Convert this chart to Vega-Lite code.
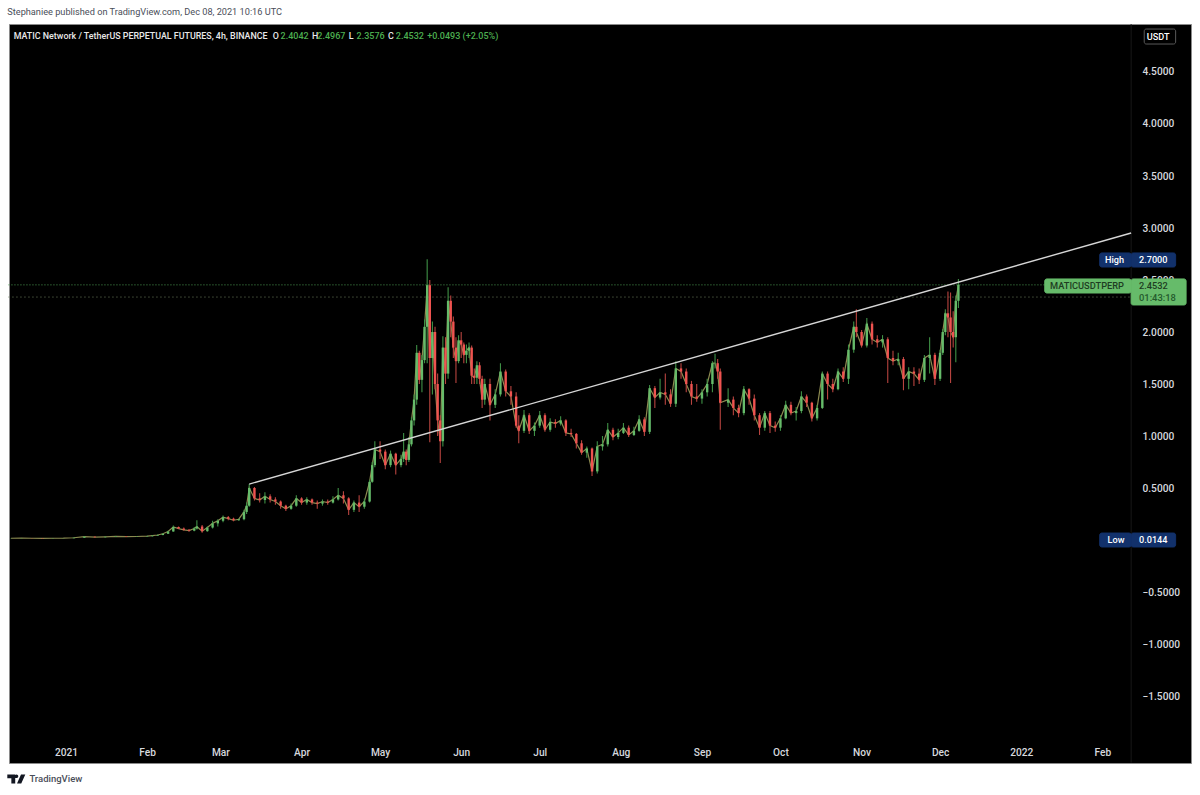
{
  "$schema": "https://vega.github.io/schema/vega-lite/v6.json",
  "width": 1182,
  "height": 739,
  "autosize": {"type": "none"},
  "padding": {"left": 9, "top": 24, "right": 9, "bottom": 32},
  "background": "#ffffff",
  "title": {"text": "Stephaniee published on TradingView.com, Dec 08, 2021 10:16 UTC", "anchor": "start", "font": "Roboto", "fontSize": 9.2, "fontWeight": "normal", "color": "#4a4e59", "offset": 6},
  "config": {
    "view": {"fill": "#000000", "stroke": "#8a8a8a", "strokeWidth": 1},
    "axis": {"domain": false, "ticks": false, "grid": false, "labelFont": "Roboto", "labelFontSize": 10.2, "labelFontWeight": 500, "labelColor": "#d6d8de", "title": null}
  },
  "datasets": {
    "candles": [
      {"d":"2020-12-11","o":0.016,"h":0.018,"l":0.015,"c":0.017},
      {"d":"2020-12-15","o":0.017,"h":0.019,"l":0.016,"c":0.018},
      {"d":"2020-12-19","o":0.018,"h":0.019,"l":0.016,"c":0.017},
      {"d":"2020-12-23","o":0.017,"h":0.018,"l":0.014,"c":0.015},
      {"d":"2020-12-27","o":0.015,"h":0.018,"l":0.015,"c":0.017},
      {"d":"2020-12-31","o":0.017,"h":0.019,"l":0.016,"c":0.018},
      {"d":"2021-01-04","o":0.018,"h":0.024,"l":0.017,"c":0.022},
      {"d":"2021-01-08","o":0.022,"h":0.036,"l":0.02,"c":0.032},
      {"d":"2021-01-12","o":0.032,"h":0.034,"l":0.024,"c":0.027},
      {"d":"2021-01-16","o":0.027,"h":0.034,"l":0.025,"c":0.031},
      {"d":"2021-01-20","o":0.031,"h":0.038,"l":0.029,"c":0.035},
      {"d":"2021-01-24","o":0.035,"h":0.038,"l":0.03,"c":0.032},
      {"d":"2021-01-28","o":0.032,"h":0.036,"l":0.028,"c":0.034},
      {"d":"2021-02-01","o":0.034,"h":0.04,"l":0.032,"c":0.037},
      {"d":"2021-02-03","o":0.037,"h":0.046,"l":0.035,"c":0.042},
      {"d":"2021-02-05","o":0.042,"h":0.052,"l":0.04,"c":0.048},
      {"d":"2021-02-07","o":0.048,"h":0.066,"l":0.046,"c":0.06},
      {"d":"2021-02-09","o":0.06,"h":0.09,"l":0.058,"c":0.082},
      {"d":"2021-02-11","o":0.082,"h":0.14,"l":0.08,"c":0.125},
      {"d":"2021-02-13","o":0.125,"h":0.13,"l":0.105,"c":0.11},
      {"d":"2021-02-15","o":0.11,"h":0.12,"l":0.09,"c":0.098},
      {"d":"2021-02-17","o":0.098,"h":0.105,"l":0.08,"c":0.09},
      {"d":"2021-02-19","o":0.09,"h":0.125,"l":0.085,"c":0.11},
      {"d":"2021-02-20","o":0.11,"h":0.19,"l":0.1,"c":0.13},
      {"d":"2021-02-22","o":0.13,"h":0.145,"l":0.07,"c":0.085},
      {"d":"2021-02-24","o":0.085,"h":0.13,"l":0.08,"c":0.12},
      {"d":"2021-02-26","o":0.12,"h":0.185,"l":0.11,"c":0.16},
      {"d":"2021-02-28","o":0.16,"h":0.2,"l":0.13,"c":0.185},
      {"d":"2021-03-02","o":0.185,"h":0.235,"l":0.17,"c":0.22},
      {"d":"2021-03-04","o":0.22,"h":0.23,"l":0.19,"c":0.205},
      {"d":"2021-03-06","o":0.205,"h":0.215,"l":0.18,"c":0.19},
      {"d":"2021-03-08","o":0.19,"h":0.205,"l":0.185,"c":0.2},
      {"d":"2021-03-10","o":0.2,"h":0.29,"l":0.19,"c":0.27},
      {"d":"2021-03-11","o":0.27,"h":0.36,"l":0.25,"c":0.33},
      {"d":"2021-03-12","o":0.33,"h":0.538,"l":0.32,"c":0.5},
      {"d":"2021-03-14","o":0.5,"h":0.51,"l":0.38,"c":0.4},
      {"d":"2021-03-16","o":0.4,"h":0.45,"l":0.36,"c":0.385},
      {"d":"2021-03-18","o":0.385,"h":0.46,"l":0.35,"c":0.42},
      {"d":"2021-03-20","o":0.42,"h":0.44,"l":0.36,"c":0.39},
      {"d":"2021-03-22","o":0.39,"h":0.41,"l":0.34,"c":0.37},
      {"d":"2021-03-24","o":0.37,"h":0.38,"l":0.3,"c":0.33},
      {"d":"2021-03-26","o":0.33,"h":0.34,"l":0.28,"c":0.3},
      {"d":"2021-03-28","o":0.3,"h":0.35,"l":0.29,"c":0.33},
      {"d":"2021-03-30","o":0.33,"h":0.43,"l":0.32,"c":0.4},
      {"d":"2021-04-01","o":0.4,"h":0.41,"l":0.34,"c":0.36},
      {"d":"2021-04-03","o":0.36,"h":0.41,"l":0.34,"c":0.39},
      {"d":"2021-04-05","o":0.39,"h":0.4,"l":0.34,"c":0.36},
      {"d":"2021-04-07","o":0.36,"h":0.38,"l":0.3,"c":0.35},
      {"d":"2021-04-09","o":0.35,"h":0.39,"l":0.33,"c":0.37},
      {"d":"2021-04-11","o":0.37,"h":0.39,"l":0.34,"c":0.36},
      {"d":"2021-04-13","o":0.36,"h":0.42,"l":0.35,"c":0.39},
      {"d":"2021-04-15","o":0.39,"h":0.5,"l":0.38,"c":0.43},
      {"d":"2021-04-17","o":0.43,"h":0.47,"l":0.35,"c":0.4},
      {"d":"2021-04-19","o":0.4,"h":0.41,"l":0.24,"c":0.29},
      {"d":"2021-04-21","o":0.29,"h":0.38,"l":0.27,"c":0.36},
      {"d":"2021-04-23","o":0.36,"h":0.43,"l":0.27,"c":0.32},
      {"d":"2021-04-25","o":0.32,"h":0.4,"l":0.3,"c":0.37},
      {"d":"2021-04-27","o":0.37,"h":0.58,"l":0.36,"c":0.56},
      {"d":"2021-04-28","o":0.56,"h":0.75,"l":0.55,"c":0.72},
      {"d":"2021-04-29","o":0.72,"h":0.95,"l":0.7,"c":0.87},
      {"d":"2021-05-01","o":0.87,"h":0.95,"l":0.78,"c":0.85},
      {"d":"2021-05-03","o":0.85,"h":0.87,"l":0.68,"c":0.72},
      {"d":"2021-05-05","o":0.72,"h":0.86,"l":0.7,"c":0.83},
      {"d":"2021-05-07","o":0.83,"h":0.84,"l":0.63,"c":0.72},
      {"d":"2021-05-09","o":0.72,"h":0.82,"l":0.7,"c":0.78},
      {"d":"2021-05-10","o":0.78,"h":1.03,"l":0.75,"c":0.85},
      {"d":"2021-05-11","o":0.85,"h":0.87,"l":0.72,"c":0.77},
      {"d":"2021-05-12","o":0.77,"h":0.99,"l":0.75,"c":0.92},
      {"d":"2021-05-13","o":0.92,"h":1.18,"l":0.9,"c":1.15},
      {"d":"2021-05-14","o":1.15,"h":1.4,"l":1.1,"c":1.35},
      {"d":"2021-05-15","o":1.35,"h":1.875,"l":1.3,"c":1.8},
      {"d":"2021-05-16","o":1.8,"h":1.82,"l":1.5,"c":1.54},
      {"d":"2021-05-17","o":1.54,"h":1.78,"l":1.42,"c":1.73},
      {"d":"2021-05-18","o":1.73,"h":2.12,"l":1.7,"c":2.05},
      {"d":"2021-05-19","o":2.05,"h":2.7,"l":1.7,"c":2.45},
      {"d":"2021-05-20","o":2.45,"h":2.5,"l":0.94,"c":1.75},
      {"d":"2021-05-21","o":1.75,"h":2.1,"l":1.4,"c":2.0},
      {"d":"2021-05-22","o":2.0,"h":2.05,"l":1.45,"c":1.5},
      {"d":"2021-05-23","o":1.5,"h":1.6,"l":1.0,"c":1.15},
      {"d":"2021-05-24","o":1.15,"h":1.2,"l":0.74,"c":0.95},
      {"d":"2021-05-25","o":0.95,"h":1.96,"l":0.9,"c":1.85},
      {"d":"2021-05-26","o":1.85,"h":1.95,"l":1.5,"c":1.6},
      {"d":"2021-05-27","o":1.6,"h":2.43,"l":1.55,"c":2.3},
      {"d":"2021-05-28","o":2.3,"h":2.35,"l":1.95,"c":2.1},
      {"d":"2021-05-29","o":2.1,"h":2.15,"l":1.75,"c":1.85},
      {"d":"2021-05-30","o":1.85,"h":1.95,"l":1.51,"c":1.72},
      {"d":"2021-05-31","o":1.72,"h":1.97,"l":1.7,"c":1.92},
      {"d":"2021-06-01","o":1.92,"h":2.0,"l":1.75,"c":1.88},
      {"d":"2021-06-02","o":1.88,"h":1.9,"l":1.7,"c":1.78},
      {"d":"2021-06-03","o":1.78,"h":1.88,"l":1.7,"c":1.82},
      {"d":"2021-06-04","o":1.82,"h":1.9,"l":1.75,"c":1.85},
      {"d":"2021-06-05","o":1.85,"h":1.87,"l":1.5,"c":1.58},
      {"d":"2021-06-06","o":1.58,"h":1.65,"l":1.5,"c":1.56},
      {"d":"2021-06-07","o":1.56,"h":1.72,"l":1.5,"c":1.68},
      {"d":"2021-06-08","o":1.68,"h":1.71,"l":1.5,"c":1.55},
      {"d":"2021-06-09","o":1.55,"h":1.58,"l":1.27,"c":1.35},
      {"d":"2021-06-10","o":1.35,"h":1.55,"l":1.3,"c":1.5},
      {"d":"2021-06-12","o":1.5,"h":1.55,"l":1.15,"c":1.3},
      {"d":"2021-06-14","o":1.3,"h":1.45,"l":1.27,"c":1.4},
      {"d":"2021-06-16","o":1.4,"h":1.7,"l":1.38,"c":1.62},
      {"d":"2021-06-18","o":1.62,"h":1.64,"l":1.38,"c":1.43},
      {"d":"2021-06-20","o":1.43,"h":1.48,"l":1.3,"c":1.38},
      {"d":"2021-06-22","o":1.38,"h":1.42,"l":1.08,"c":1.1},
      {"d":"2021-06-23","o":1.1,"h":1.2,"l":0.93,"c":1.05},
      {"d":"2021-06-25","o":1.05,"h":1.25,"l":1.03,"c":1.2},
      {"d":"2021-06-27","o":1.2,"h":1.22,"l":1.02,"c":1.05},
      {"d":"2021-06-29","o":1.05,"h":1.13,"l":1.0,"c":1.1},
      {"d":"2021-07-01","o":1.1,"h":1.24,"l":1.08,"c":1.2},
      {"d":"2021-07-03","o":1.2,"h":1.22,"l":1.04,"c":1.06},
      {"d":"2021-07-05","o":1.06,"h":1.17,"l":1.04,"c":1.135},
      {"d":"2021-07-07","o":1.135,"h":1.16,"l":1.08,"c":1.12},
      {"d":"2021-07-09","o":1.12,"h":1.19,"l":1.1,"c":1.15},
      {"d":"2021-07-11","o":1.15,"h":1.16,"l":1.0,"c":1.03},
      {"d":"2021-07-13","o":1.03,"h":1.07,"l":0.99,"c":1.02},
      {"d":"2021-07-15","o":1.02,"h":1.03,"l":0.88,"c":0.93},
      {"d":"2021-07-17","o":0.93,"h":0.96,"l":0.82,"c":0.84},
      {"d":"2021-07-19","o":0.84,"h":0.9,"l":0.79,"c":0.88},
      {"d":"2021-07-21","o":0.88,"h":0.89,"l":0.615,"c":0.66},
      {"d":"2021-07-23","o":0.66,"h":0.95,"l":0.64,"c":0.9},
      {"d":"2021-07-25","o":0.9,"h":1.0,"l":0.86,"c":0.92},
      {"d":"2021-07-27","o":0.92,"h":1.125,"l":0.9,"c":1.06},
      {"d":"2021-07-29","o":1.06,"h":1.08,"l":0.96,"c":0.99},
      {"d":"2021-07-31","o":0.99,"h":1.07,"l":0.97,"c":1.03},
      {"d":"2021-08-02","o":1.03,"h":1.125,"l":1.02,"c":1.08},
      {"d":"2021-08-04","o":1.08,"h":1.1,"l":0.99,"c":1.01},
      {"d":"2021-08-06","o":1.01,"h":1.09,"l":1.0,"c":1.05},
      {"d":"2021-08-08","o":1.05,"h":1.2,"l":1.04,"c":1.16},
      {"d":"2021-08-10","o":1.16,"h":1.18,"l":1.0,"c":1.04},
      {"d":"2021-08-12","o":1.04,"h":1.49,"l":1.02,"c":1.46},
      {"d":"2021-08-14","o":1.46,"h":1.48,"l":1.27,"c":1.37},
      {"d":"2021-08-16","o":1.37,"h":1.55,"l":1.35,"c":1.42},
      {"d":"2021-08-18","o":1.42,"h":1.6,"l":1.3,"c":1.4},
      {"d":"2021-08-20","o":1.4,"h":1.45,"l":1.28,"c":1.31},
      {"d":"2021-08-22","o":1.31,"h":1.72,"l":1.28,"c":1.65},
      {"d":"2021-08-24","o":1.65,"h":1.7,"l":1.55,"c":1.62},
      {"d":"2021-08-26","o":1.62,"h":1.65,"l":1.42,"c":1.5},
      {"d":"2021-08-28","o":1.5,"h":1.53,"l":1.3,"c":1.38},
      {"d":"2021-08-30","o":1.38,"h":1.5,"l":1.33,"c":1.36},
      {"d":"2021-09-01","o":1.36,"h":1.45,"l":1.31,"c":1.42},
      {"d":"2021-09-03","o":1.42,"h":1.55,"l":1.38,"c":1.5},
      {"d":"2021-09-05","o":1.5,"h":1.72,"l":1.42,"c":1.7},
      {"d":"2021-09-06","o":1.7,"h":1.79,"l":1.65,"c":1.7},
      {"d":"2021-09-07","o":1.7,"h":1.74,"l":1.55,"c":1.62},
      {"d":"2021-09-08","o":1.62,"h":1.65,"l":1.06,"c":1.32},
      {"d":"2021-09-11","o":1.32,"h":1.46,"l":1.28,"c":1.35},
      {"d":"2021-09-13","o":1.35,"h":1.38,"l":1.2,"c":1.27},
      {"d":"2021-09-15","o":1.27,"h":1.3,"l":1.18,"c":1.22},
      {"d":"2021-09-17","o":1.22,"h":1.48,"l":1.2,"c":1.45},
      {"d":"2021-09-19","o":1.45,"h":1.46,"l":1.3,"c":1.36},
      {"d":"2021-09-21","o":1.36,"h":1.4,"l":1.15,"c":1.2},
      {"d":"2021-09-23","o":1.2,"h":1.22,"l":1.01,"c":1.08},
      {"d":"2021-09-25","o":1.08,"h":1.24,"l":1.05,"c":1.22},
      {"d":"2021-09-27","o":1.22,"h":1.24,"l":1.03,"c":1.1},
      {"d":"2021-09-29","o":1.1,"h":1.14,"l":1.04,"c":1.08},
      {"d":"2021-10-01","o":1.08,"h":1.2,"l":1.05,"c":1.17},
      {"d":"2021-10-03","o":1.17,"h":1.34,"l":1.16,"c":1.3},
      {"d":"2021-10-05","o":1.3,"h":1.33,"l":1.2,"c":1.22},
      {"d":"2021-10-07","o":1.22,"h":1.28,"l":1.15,"c":1.24},
      {"d":"2021-10-09","o":1.24,"h":1.43,"l":1.22,"c":1.38},
      {"d":"2021-10-11","o":1.38,"h":1.4,"l":1.28,"c":1.32},
      {"d":"2021-10-13","o":1.32,"h":1.33,"l":1.14,"c":1.17},
      {"d":"2021-10-15","o":1.17,"h":1.3,"l":1.15,"c":1.27},
      {"d":"2021-10-17","o":1.27,"h":1.62,"l":1.26,"c":1.6},
      {"d":"2021-10-19","o":1.6,"h":1.62,"l":1.35,"c":1.5},
      {"d":"2021-10-21","o":1.5,"h":1.55,"l":1.42,"c":1.45},
      {"d":"2021-10-23","o":1.45,"h":1.65,"l":1.44,"c":1.62},
      {"d":"2021-10-25","o":1.62,"h":1.66,"l":1.52,"c":1.55},
      {"d":"2021-10-27","o":1.55,"h":1.88,"l":1.5,"c":1.83},
      {"d":"2021-10-29","o":1.83,"h":2.1,"l":1.8,"c":2.05},
      {"d":"2021-10-30","o":2.05,"h":2.22,"l":1.95,"c":2.0},
      {"d":"2021-11-01","o":2.0,"h":2.02,"l":1.85,"c":1.87},
      {"d":"2021-11-03","o":1.87,"h":2.135,"l":1.85,"c":2.08},
      {"d":"2021-11-05","o":2.08,"h":2.1,"l":1.88,"c":1.93},
      {"d":"2021-11-07","o":1.93,"h":1.97,"l":1.85,"c":1.9},
      {"d":"2021-11-09","o":1.9,"h":1.97,"l":1.85,"c":1.93},
      {"d":"2021-11-11","o":1.93,"h":1.95,"l":1.51,"c":1.75},
      {"d":"2021-11-13","o":1.75,"h":1.82,"l":1.68,"c":1.72},
      {"d":"2021-11-15","o":1.72,"h":1.8,"l":1.68,"c":1.74},
      {"d":"2021-11-17","o":1.74,"h":1.76,"l":1.44,"c":1.55},
      {"d":"2021-11-19","o":1.55,"h":1.66,"l":1.45,"c":1.62},
      {"d":"2021-11-21","o":1.62,"h":1.66,"l":1.48,"c":1.6},
      {"d":"2021-11-23","o":1.6,"h":1.65,"l":1.5,"c":1.54},
      {"d":"2021-11-25","o":1.54,"h":1.78,"l":1.52,"c":1.75},
      {"d":"2021-11-27","o":1.75,"h":1.95,"l":1.6,"c":1.78},
      {"d":"2021-11-29","o":1.78,"h":1.8,"l":1.49,"c":1.55},
      {"d":"2021-12-01","o":1.55,"h":1.83,"l":1.53,"c":1.8},
      {"d":"2021-12-02","o":1.8,"h":2.03,"l":1.78,"c":2.0},
      {"d":"2021-12-03","o":2.0,"h":2.22,"l":1.97,"c":2.18},
      {"d":"2021-12-04","o":2.18,"h":2.39,"l":1.95,"c":2.14},
      {"d":"2021-12-05","o":2.14,"h":2.38,"l":1.51,"c":2.0},
      {"d":"2021-12-06","o":2.0,"h":2.2,"l":1.85,"c":1.95},
      {"d":"2021-12-07","o":1.95,"h":2.35,"l":1.71,"c":2.3},
      {"d":"2021-12-08","o":2.3,"h":2.51,"l":2.23,"c":2.4532}
    ],
    "guides": [
      {"d":"2020-12-10","d2":"2022-01-10","p":2.4532,"p2":2.4532,"kind":"last"},
      {"d":"2020-12-10","d2":"2022-02-12","p":2.336,"p2":2.336,"kind":"prev"},
      {"d":"2022-02-12","d2":"2022-02-12","p":4.96,"p2":-2.14,"kind":"sep"}
    ],
    "trend": [
      {"d":"2021-03-12","p":0.538},
      {"d":"2022-02-12","p":2.952}
    ],
    "boxes": [
      {"d":"2022-01-31","d2":"2022-02-12","p":2.76,"p2":2.625,"kind":"extreme"},
      {"d":"2022-02-12","d2":"2022-03-01","p":2.76,"p2":2.625,"kind":"extreme"},
      {"d":"2022-01-31","d2":"2022-02-12","p":0.067,"p2":-0.067,"kind":"extreme"},
      {"d":"2022-02-12","d2":"2022-03-01","p":0.067,"p2":-0.067,"kind":"extreme"},
      {"d":"2022-01-10","d2":"2022-02-12","p":2.51,"p2":2.375,"kind":"last"},
      {"d":"2022-02-12","d2":"2022-03-05","p":2.51,"p2":2.26,"kind":"last"},
      {"d":"2022-02-17","d2":"2022-03-01","p":4.913,"p2":4.769,"kind":"unit"}
    ],
    "labels": [
      {"d":"2020-12-12","p":4.846,"t":"MATIC Network / TetherUS PERPETUAL FUTURES, 4h, BINANCE","kind":"head"},
      {"d":"2021-03-21","p":4.846,"t":"O","kind":"head"},
      {"d":"2021-03-24","p":4.846,"t":"2.4042","kind":"val"},
      {"d":"2021-04-05","p":4.846,"t":"H","kind":"head"},
      {"d":"2021-04-07","p":4.846,"t":"2.4967","kind":"val"},
      {"d":"2021-04-19","p":4.846,"t":"L","kind":"head"},
      {"d":"2021-04-22","p":4.846,"t":"2.3576","kind":"val"},
      {"d":"2021-05-04","p":4.846,"t":"C","kind":"head"},
      {"d":"2021-05-07","p":4.846,"t":"2.4532","kind":"val"},
      {"d":"2021-05-19","p":4.846,"t":"+0.0493 (+2.05%)","kind":"val"},
      {"d":"2022-02-18","p":4.837,"t":"USDT","kind":"tag"},
      {"d":"2022-02-02","p":2.69,"t":"High","kind":"tag"},
      {"d":"2022-02-15","p":2.69,"t":"2.7000","kind":"tag"},
      {"d":"2022-02-03","p":0,"t":"Low","kind":"tag"},
      {"d":"2022-02-15","p":0,"t":"0.0144","kind":"tag"},
      {"d":"2022-01-12","p":2.44,"t":"MATICUSDTPERP","kind":"dark"},
      {"d":"2022-02-15","p":2.44,"t":"2.4532","kind":"dark"},
      {"d":"2022-02-15","p":2.325,"t":"01:43:18","kind":"time"},
      {"d":"2020-12-18","p":-2.298,"t":"TradingView","kind":"brand"}
    ],
    "logo": [
      {"d":"2020-12-13","p":-2.298}
    ]
  },
  "layer": [
    {
      "data": {"name": "guides"},
      "mark": {"type": "rule", "strokeWidth": 1},
      "encoding": {
        "x": {
          "field": "d",
          "type": "temporal",
          "title": null,
          "scale": {"domain": [{"year": 2020, "month": 12, "date": 10, "hours": 5}, {"year": 2022, "month": 3, "date": 6, "hours": 21}], "nice": false, "padding": 0},
          "axis": {
            "orient": "bottom",
            "offset": -24,
            "labelPadding": 8,
            "labelFlush": false,
            "labelOverlap": false,
            "values": [
              {"year": 2021, "month": 1, "date": 1}, {"year": 2021, "month": 2, "date": 1}, {"year": 2021, "month": 3, "date": 1},
              {"year": 2021, "month": 4, "date": 1}, {"year": 2021, "month": 5, "date": 1}, {"year": 2021, "month": 6, "date": 1},
              {"year": 2021, "month": 7, "date": 1}, {"year": 2021, "month": 8, "date": 1}, {"year": 2021, "month": 9, "date": 1},
              {"year": 2021, "month": 10, "date": 1}, {"year": 2021, "month": 11, "date": 1}, {"year": 2021, "month": 12, "date": 1},
              {"year": 2022, "month": 1, "date": 1}, {"year": 2022, "month": 2, "date": 1}
            ],
            "labelExpr": "month(datum.value) == 0 ? timeFormat(datum.value, '%Y') : timeFormat(datum.value, '%b')"
          }
        },
        "x2": {"field": "d2"},
        "y": {
          "field": "p",
          "type": "quantitative",
          "title": null,
          "scale": {"domain": [-2.144, 4.9615], "nice": false, "zero": false},
          "axis": {
            "orient": "right",
            "offset": -49,
            "labelPadding": 0,
            "labelAlign": "left",
            "labelFlush": false,
            "labelOverlap": false,
            "format": ".4f",
            "values": [-1.5, -1, -0.5, 0.5, 1, 1.5, 2, 2.5, 3, 3.5, 4, 4.5]
          }
        },
        "y2": {"field": "p2"},
        "color": {"field": "kind", "type": "nominal", "legend": null, "scale": {"domain": ["last", "prev", "sep"], "range": ["#4a9a50", "#6f7f5f", "#1c1c1c"]}},
        "strokeDash": {"field": "kind", "type": "nominal", "legend": null, "scale": {"domain": ["last", "prev", "sep"], "range": [[1, 2], [1, 3], [1, 0]]}}
      }
    },
    {
      "data": {"name": "candles"},
      "mark": {"type": "line", "strokeWidth": 1.2, "color": "#8c8a50"},
      "encoding": {
        "x": {"field": "d", "type": "temporal", "title": null},
        "y": {"field": "c", "type": "quantitative", "title": null}
      }
    },
    {
      "data": {"name": "candles"},
      "mark": {"type": "rule", "strokeWidth": 1.1},
      "encoding": {
        "x": {"field": "d", "type": "temporal", "title": null},
        "y": {"field": "l", "type": "quantitative", "title": null},
        "y2": {"field": "h"},
        "color": {"condition": {"test": "datum.c >= datum.o", "value": "#3f9146"}, "value": "#b8443f"}
      }
    },
    {
      "data": {"name": "candles"},
      "mark": {"type": "bar", "size": 2.4},
      "encoding": {
        "x": {"field": "d", "type": "temporal", "title": null},
        "y": {"field": "o", "type": "quantitative", "title": null},
        "y2": {"field": "c"},
        "color": {"condition": {"test": "datum.c >= datum.o", "value": "#66bb6a"}, "value": "#ef5350"}
      }
    },
    {
      "data": {"name": "trend"},
      "mark": {"type": "line", "strokeWidth": 1.4, "color": "#d6d6d6"},
      "encoding": {
        "x": {"field": "d", "type": "temporal", "title": null},
        "y": {"field": "p", "type": "quantitative", "title": null}
      }
    },
    {
      "data": {"name": "boxes"},
      "mark": {"type": "rect", "cornerRadius": 2, "strokeWidth": 1},
      "encoding": {
        "x": {"field": "d", "type": "temporal", "title": null},
        "x2": {"field": "d2"},
        "y": {"field": "p", "type": "quantitative", "title": null},
        "y2": {"field": "p2"},
        "fill": {"field": "kind", "type": "nominal", "legend": null, "scale": {"domain": ["extreme", "last", "unit"], "range": ["#12316b", "#66bb6a", "#000000"]}},
        "stroke": {"field": "kind", "type": "nominal", "legend": null, "scale": {"domain": ["extreme", "last", "unit"], "range": ["#12316b", "#66bb6a", "#5a5a5a"]}}
      }
    },
    {
      "data": {"name": "labels"},
      "mark": {"type": "text", "align": "left", "baseline": "middle", "font": "Roboto", "fontWeight": 500},
      "encoding": {
        "x": {"field": "d", "type": "temporal", "title": null},
        "y": {"field": "p", "type": "quantitative", "title": null},
        "text": {"field": "t"},
        "color": {"field": "kind", "type": "nominal", "legend": null, "scale": {"domain": ["head", "val", "tag", "dark", "time", "brand"], "range": ["#e8e8e8", "#4caf50", "#ffffff", "#1e3d22", "#245a2c", "#4a4e59"]}},
        "size": {"field": "kind", "type": "nominal", "legend": null, "scale": {"domain": ["head", "val", "tag", "dark", "time", "brand"], "range": [8.9, 9.5, 10.2, 10.2, 10.2, 14.5]}}
      }
    },
    {
      "data": {"name": "logo"},
      "mark": {"type": "point", "filled": true, "opacity": 1, "size": 324, "color": "#131722", "shape": "M-1 -0.5H-0.12V0.5H-0.55V-0.08H-1Z M0.02 -0.5A0.2 0.2 0 1 1 0.02 -0.1A0.2 0.2 0 1 1 0.02 -0.5Z M0.52 -0.5H1L0.55 0.5H0.08Z"},
      "encoding": {
        "x": {"field": "d", "type": "temporal", "title": null},
        "y": {"field": "p", "type": "quantitative", "title": null}
      }
    }
  ],
  "resolve": {"scale": {"color": "independent"}}
}
